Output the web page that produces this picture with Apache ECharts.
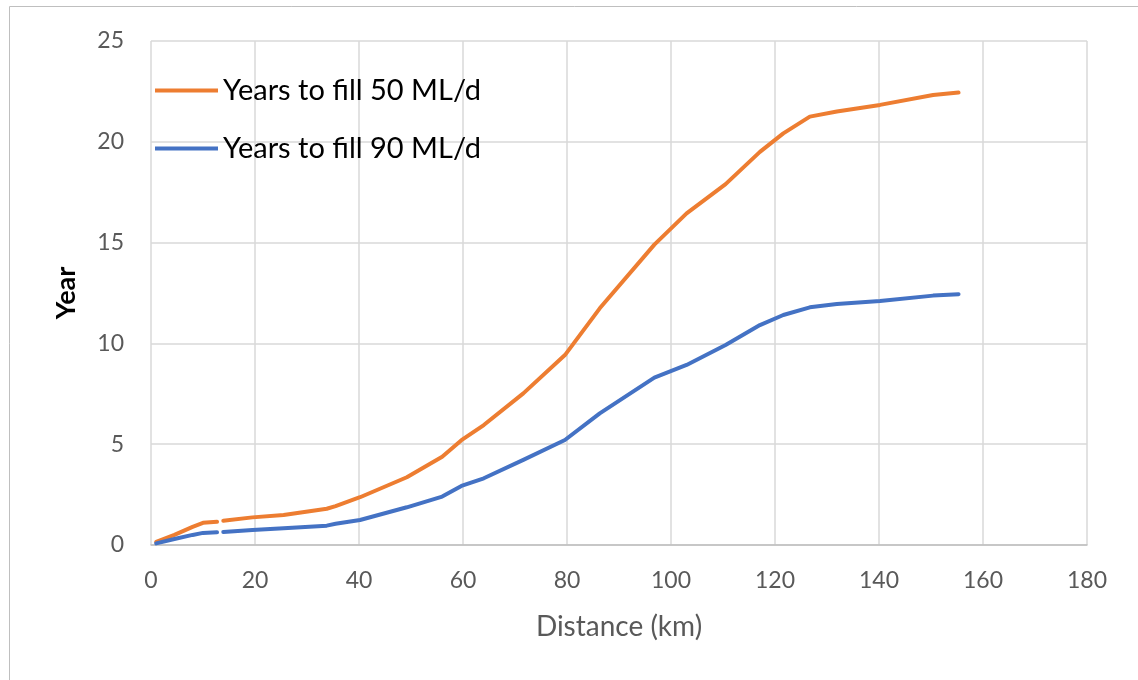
<!DOCTYPE html>
<html>
<head>
<meta charset="utf-8">
<script src="https://cdn.jsdelivr.net/npm/echarts@6/dist/echarts.min.js"></script>
<style>
  html, body { margin: 0; padding: 0; background: #fff; }
  #chart { width: 1138px; height: 680px; }
</style>
</head>
<body>
<div id="chart"></div>
<script>
// distance (km); '-' entries leave a break in the lines
var distance = [1, 4.5, 8, 10, 12.7, 13.3, 13.9, 19.5, 25.5, 33.8, 35.5, 40.2, 49.2, 56, 59.7, 64, 71.6, 79.6, 86.3, 96.8, 103, 110.5, 117.1, 121.6, 126.7, 131.9, 140.2, 150.4, 155.3];
var years50 = [0.15, 0.5, 0.9, 1.1, 1.15, '-', 1.2, 1.37, 1.49, 1.8, 1.93, 2.37, 3.36, 4.38, 5.2, 5.95, 7.52, 9.42, 11.74, 14.9, 16.45, 17.9, 19.5, 20.42, 21.25, 21.5, 21.83, 22.32, 22.44];
var years90 = [0.08, 0.3, 0.5, 0.6, 0.63, '-', 0.65, 0.74, 0.83, 0.96, 1.05, 1.24, 1.87, 2.4, 2.93, 3.31, 4.22, 5.21, 6.53, 8.3, 8.93, 9.92, 10.91, 11.41, 11.79, 11.95, 12.1, 12.37, 12.44];
var seriesNames = ['Years to fill 50 ML/d', 'Years to fill 90 ML/d'];

function pairs(xs, ys) {
    var out = [];
    for (var i = 0; i < xs.length; i++) out.push([xs[i], ys[i]]);
    return out;
}

var chart = echarts.init(document.getElementById('chart'));
var font = 'Lato, "Open Sans", sans-serif';

chart.setOption({
    animation: false,
    textStyle: { fontFamily: font },
    graphic: [{
        type: 'rect',
        shape: { x: 9.5, y: 6.5, width: 1140, height: 700 },
        style: { fill: 'none', stroke: '#bfbfbf', lineWidth: 1 },
        silent: true
    }],
    grid: { left: 151, right: 51, top: 41, bottom: 135 },
    legend: {
        orient: 'vertical',
        left: 155,
        top: 76,
        padding: 0,
        itemGap: 29,
        itemWidth: 63,
        itemHeight: 4,
        icon: 'rect',
        textStyle: { fontSize: 29, lineHeight: 28, color: '#000', fontFamily: font },
        data: seriesNames
    },
    xAxis: {
        type: 'value',
        min: 0, max: 180, interval: 20,
        name: 'Distance (km)',
        nameLocation: 'middle',
        nameGap: 68,
        nameTextStyle: { fontSize: 28, color: '#595959' },
        axisLine: { show: true, lineStyle: { color: '#bfbfbf', width: 1.5 } },
        axisTick: { show: false },
        axisLabel: { fontSize: 23, color: '#595959', margin: 24 },
        splitLine: { show: true, lineStyle: { color: '#d9d9d9', width: 1.5 } }
    },
    yAxis: {
        type: 'value',
        min: 0, max: 25, interval: 5,
        name: 'Year',
        nameLocation: 'middle',
        nameGap: 71,
        nameTextStyle: { fontSize: 27, fontWeight: 'bold', color: '#000' },
        axisLine: { show: false },
        axisTick: { show: false },
        axisLabel: { fontSize: 23, color: '#595959', margin: 27 },
        splitLine: { show: true, lineStyle: { color: '#d9d9d9', width: 1.5 } }
    },
    series: [{
        name: seriesNames[0],
        type: 'line',
        data: pairs(distance, years50),
        symbol: 'none',
        connectNulls: false,
        color: '#ED7D31',
        lineStyle: { width: 4, cap: 'round', join: 'round' }
    }, {
        name: seriesNames[1],
        type: 'line',
        data: pairs(distance, years90),
        symbol: 'none',
        connectNulls: false,
        color: '#4472C4',
        lineStyle: { width: 4, cap: 'round', join: 'round' }
    }]
});
</script>
</body>
</html>
